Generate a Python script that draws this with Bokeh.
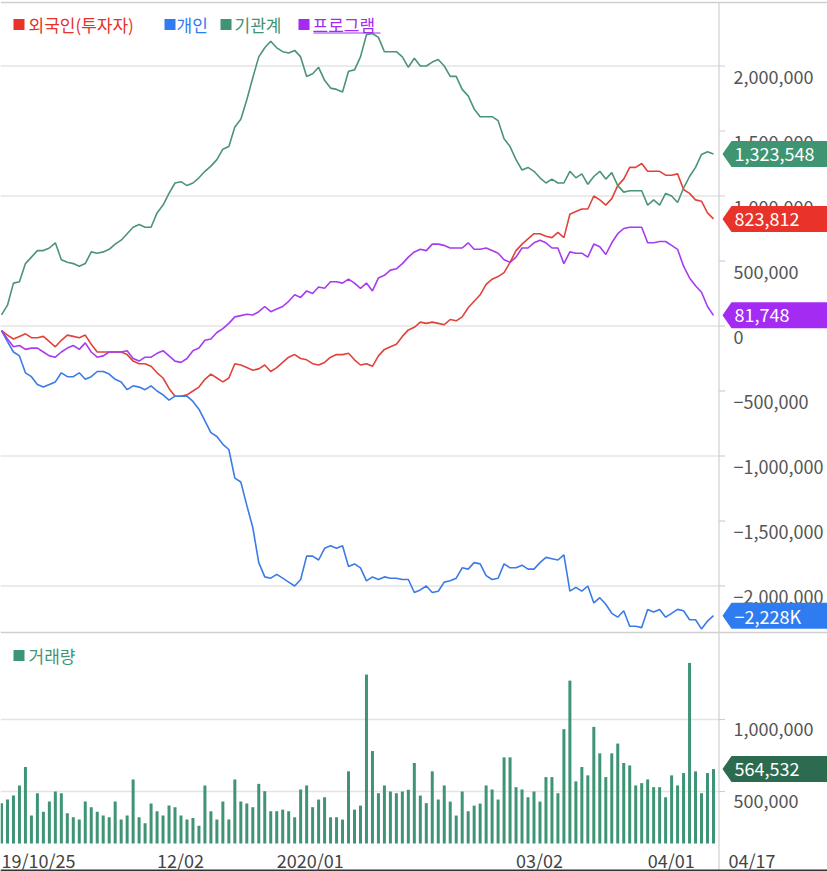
from bokeh.plotting import figure
from bokeh.models import Range1d
from bokeh.core.properties import value
from bokeh.embed import file_html
from bokeh.resources import INLINE

# ---------------- data ----------------
SERIES_NAMES = ["외국인(투자자)", "개인", "기관계", "프로그램"]
VOLUME_NAME = "거래량"
X_TICK_INDEX = [0, 26, 46, 86, 108]
X_TICK_LABELS = ["19/10/25", "12/02", "2020/01", "03/02", "04/01"]
LAST_DATE_LABEL = "04/17"
MAIN_TICKS = [-2000000, -1500000, -1000000, -500000, 0, 500000, 1000000, 1500000, 2000000]
MAIN_TICK_LABELS = ["−2,000,000", "−1,500,000", "−1,000,000", "−500,000", "0",
                    "500,000", "1,000,000", "1,500,000", "2,000,000"]
MAIN_GRID = [-2000000, -1000000, 0, 1000000, 2000000]
VOL_TICKS = [500000, 1000000]
VOL_TICK_LABELS = ["500,000", "1,000,000"]
LAST_LABELS = ["823,812", "−2,228K", "1,323,548", "81,748"]
VOL_LAST_LABEL = "564,532"

# cumulative net buying, millions
foreign_m = [
    -0.035, -0.07, -0.10, -0.08, -0.06, -0.09, -0.09, -0.08, -0.12, -0.16,
    -0.11, -0.07, -0.08, -0.09, -0.07, -0.14, -0.20, -0.20, -0.20, -0.20,
    -0.20, -0.22, -0.27, -0.29, -0.29, -0.31, -0.36, -0.40, -0.48, -0.54,
    -0.54, -0.53, -0.50, -0.47, -0.41, -0.37, -0.40, -0.43, -0.40, -0.29,
    -0.30, -0.32, -0.34, -0.33, -0.30, -0.35, -0.32, -0.28, -0.24, -0.22,
    -0.25, -0.26, -0.29, -0.30, -0.28, -0.24, -0.22, -0.22, -0.21, -0.26,
    -0.30, -0.29, -0.31, -0.23, -0.18, -0.16, -0.14, -0.08, -0.03, -0.01,
    0.03, 0.02, 0.03, 0.02, 0.01, 0.05, 0.04, 0.07, 0.14, 0.19,
    0.24, 0.32, 0.36, 0.38, 0.41, 0.49, 0.58, 0.63, 0.67, 0.71,
    0.71, 0.69, 0.68, 0.72, 0.68, 0.86, 0.88, 0.90, 0.90, 1.00,
    0.97, 0.93, 0.98, 1.08, 1.13, 1.22, 1.22, 1.25, 1.19, 1.19,
    1.19, 1.16, 1.16, 1.17, 1.05, 1.02, 0.97, 0.96, 0.87, 0.823812]
individual_m = [
    -0.035, -0.12, -0.20, -0.23, -0.36, -0.39, -0.45, -0.47, -0.45, -0.43,
    -0.36, -0.39, -0.39, -0.36, -0.41, -0.39, -0.35, -0.35, -0.37, -0.41,
    -0.43, -0.49, -0.46, -0.47, -0.49, -0.46, -0.50, -0.53, -0.57, -0.54,
    -0.54, -0.54, -0.58, -0.64, -0.73, -0.82, -0.85, -0.91, -0.95, -1.17,
    -1.20, -1.38, -1.55, -1.82, -1.93, -1.94, -1.91, -1.94, -1.97, -2.00,
    -1.95, -1.77, -1.77, -1.80, -1.71, -1.69, -1.71, -1.69, -1.85, -1.83,
    -1.86, -1.96, -1.93, -1.95, -1.93, -1.94, -1.94, -1.95, -1.95, -2.05,
    -2.03, -2.00, -2.05, -2.04, -1.97, -1.96, -1.94, -1.86, -1.87, -1.82,
    -1.83, -1.92, -1.95, -1.94, -1.83, -1.86, -1.86, -1.84, -1.87, -1.87,
    -1.82, -1.78, -1.79, -1.80, -1.76, -2.04, -2.01, -2.04, -2.00, -2.13,
    -2.09, -2.14, -2.21, -2.24, -2.19, -2.31, -2.31, -2.32, -2.18, -2.20,
    -2.18, -2.24, -2.21, -2.18, -2.19, -2.26, -2.26, -2.33, -2.27, -2.228]
institution_m = [
    0.085, 0.16, 0.33, 0.34, 0.48, 0.53, 0.58, 0.58, 0.60, 0.64,
    0.51, 0.49, 0.48, 0.46, 0.48, 0.57, 0.56, 0.57, 0.59, 0.63,
    0.66, 0.71, 0.76, 0.78, 0.76, 0.76, 0.87, 0.93, 1.02, 1.10,
    1.11, 1.08, 1.10, 1.14, 1.19, 1.23, 1.28, 1.36, 1.38, 1.53,
    1.59, 1.74, 1.91, 2.07, 2.14, 2.19, 2.14, 2.11, 2.10, 2.12,
    2.07, 1.92, 1.94, 1.99, 1.89, 1.83, 1.82, 1.80, 1.96, 1.97,
    2.07, 2.24, 2.25, 2.22, 2.11, 2.11, 2.11, 2.07, 1.99, 2.06,
    2.00, 2.00, 2.03, 2.05, 2.00, 1.92, 1.92, 1.82, 1.77, 1.67,
    1.61, 1.61, 1.61, 1.58, 1.44, 1.38, 1.28, 1.20, 1.22, 1.19,
    1.14, 1.10, 1.13, 1.10, 1.10, 1.19, 1.14, 1.17, 1.09, 1.15,
    1.19, 1.13, 1.18, 1.08, 1.03, 1.04, 1.04, 1.04, 0.93, 0.97,
    0.93, 1.02, 1.00, 0.95, 1.06, 1.15, 1.22, 1.32, 1.34, 1.323548]
program_m = [
    -0.035, -0.10, -0.16, -0.15, -0.18, -0.17, -0.17, -0.20, -0.23, -0.24,
    -0.20, -0.17, -0.15, -0.18, -0.13, -0.20, -0.24, -0.23, -0.20, -0.20,
    -0.20, -0.19, -0.25, -0.27, -0.24, -0.24, -0.21, -0.19, -0.23, -0.27,
    -0.28, -0.25, -0.19, -0.17, -0.11, -0.10, -0.05, -0.02, 0.02, 0.07,
    0.08, 0.09, 0.085, 0.11, 0.15, 0.11, 0.13, 0.15, 0.19, 0.24,
    0.22, 0.27, 0.25, 0.30, 0.29, 0.34, 0.34, 0.33, 0.36, 0.33,
    0.29, 0.33, 0.27, 0.37, 0.39, 0.43, 0.44, 0.48, 0.53, 0.57,
    0.59, 0.58, 0.63, 0.63, 0.62, 0.60, 0.60, 0.60, 0.64, 0.59,
    0.59, 0.60, 0.58, 0.56, 0.51, 0.49, 0.53, 0.60, 0.60, 0.64,
    0.66, 0.64, 0.60, 0.60, 0.48, 0.57, 0.56, 0.56, 0.53, 0.63,
    0.61, 0.55, 0.64, 0.71, 0.75, 0.76, 0.76, 0.76, 0.64, 0.64,
    0.65, 0.65, 0.62, 0.59, 0.46, 0.37, 0.31, 0.26, 0.15, 0.081748]
# daily volume, thousands
volume_k = [
    419, 444, 472, 542, 670, 333, 488, 360, 430, 500,
    488, 349, 321, 305, 430, 391, 360, 333, 321, 430,
    305, 333, 584, 321, 279, 416, 363, 333, 402, 391,
    333, 305, 316, 263, 542, 363, 305, 430, 305, 584,
    430, 416, 391, 553, 502, 363, 363, 374, 363, 321,
    514, 542, 391, 444, 460, 321, 321, 305, 640, 374,
    402, 1312, 781, 488, 542, 500, 488, 500, 512, 698,
    472, 419, 640, 444, 542, 430, 333, 500, 363, 402,
    416, 542, 514, 444, 737, 737, 530, 514, 460, 500,
    430, 600, 600, 488, 933, 1270, 570, 670, 612, 949,
    765, 600, 765, 833, 698, 681, 542, 558, 584, 530,
    530, 460, 612, 542, 628, 1393, 640, 488, 628, 656]

# ---------------- styling / layout ----------------
W, H = 827, 871
FONT = value("Noto Sans CJK KR")
LINE_COLORS = ["#e0433a", "#3b7be6", "#4b9478", "#a63cef"]
BADGE_COLORS = ["#e8322a", "#2f7cf0", "#3f9472", "#a42cf2"]
LEGEND_COLORS = ["#e8322a", "#2f7cf0", "#3f9472", "#a42cf2"]
VOL_COLOR = "#3e9474"
VOL_BADGE = "#2c6b50"
GRID = "#e4e4e4"
BORDER = "#cfcfcf"
TXT = "#555555"

X_LEFT, X_STEP = 1.0, 5.983        # pixel of index 0, pixels per index
ZERO_Y, PX_PER_M = 325.5, 130.0     # main panel scale
V500_Y, PX_PER_500K = 791.0, 72.0   # volume panel scale
AXIS_X = 718.5
MAIN_BOTTOM, VOL_BOTTOM = 632.0, 843.0

x0 = -X_LEFT / X_STEP
x1 = x0 + W / X_STEP
y_top = ZERO_Y / PX_PER_M * 1e6
y_bot = (ZERO_Y - H) / PX_PER_M * 1e6
v_top = 500000 + V500_Y * 500000 / PX_PER_500K
v_bot = 500000 - (H - V500_Y) * 500000 / PX_PER_500K
VOL_BASE = 500000 - (VOL_BOTTOM - V500_Y) * 500000 / PX_PER_500K

p = figure(width=W, height=H, output_backend="svg", toolbar_location=None,
           x_range=Range1d(x0, x1), y_range=Range1d(y_bot, y_top),
           x_axis_location=None, y_axis_location=None,
           min_border=0, min_border_left=0, min_border_right=0,
           min_border_top=0, min_border_bottom=0,
           outline_line_color=None, background_fill_color="white",
           border_fill_color="white")
p.grid.visible = False
p.extra_x_ranges = {"px": Range1d(0, W)}
p.extra_y_ranges = {"py": Range1d(H, 0), "vol": Range1d(v_bot, v_top)}

idx = list(range(len(foreign_m)))

# grid lines
p.segment(x0=[0] * len(MAIN_GRID), x1=[AXIS_X] * len(MAIN_GRID), y0=MAIN_GRID, y1=MAIN_GRID,
          x_range_name="px", line_color=GRID, line_width=1.5)
p.segment(x0=[0] * len(VOL_TICKS), x1=[AXIS_X] * len(VOL_TICKS), y0=VOL_TICKS, y1=VOL_TICKS,
          x_range_name="px", y_range_name="vol", line_color=GRID, line_width=1.5)
# borders
p.segment(x0=[0, 0], x1=[W, W], y0=[2, MAIN_BOTTOM], y1=[2, MAIN_BOTTOM],
          x_range_name="px", y_range_name="py", line_color=BORDER, line_width=1.5)
p.segment(x0=[AXIS_X], x1=[AXIS_X], y0=[2], y1=[H],
          x_range_name="px", y_range_name="py", line_color=BORDER, line_width=1.2)
p.segment(x0=[0], x1=[W], y0=[870], y1=[870],
          x_range_name="px", y_range_name="py", line_color="#333333", line_width=2)
# tick marks
p.segment(x0=[AXIS_X] * len(MAIN_TICKS), x1=[AXIS_X + 6] * len(MAIN_TICKS), y0=MAIN_TICKS, y1=MAIN_TICKS,
          x_range_name="px", line_color=BORDER, line_width=1.2)
p.segment(x0=[AXIS_X] * len(VOL_TICKS), x1=[AXIS_X + 6] * len(VOL_TICKS), y0=VOL_TICKS, y1=VOL_TICKS,
          x_range_name="px", y_range_name="vol", line_color=BORDER, line_width=1.2)
# tick labels
p.text(x=[733] * len(MAIN_TICKS), y=MAIN_TICKS, text=MAIN_TICK_LABELS, x_range_name="px",
       y_offset=11, text_font=FONT, text_font_size="18px", text_color=TXT,
       text_baseline="middle", text_align="left")
p.text(x=[733] * len(VOL_TICKS), y=VOL_TICKS, text=VOL_TICK_LABELS, x_range_name="px",
       y_range_name="vol", y_offset=9, text_font=FONT, text_font_size="18px",
       text_color=TXT, text_baseline="middle", text_align="left")

# volume bars
vol = [v * 1000 for v in volume_k]
p.vbar(x=idx, top=vol, bottom=VOL_BASE, width=0.5, y_range_name="vol",
       fill_color=VOL_COLOR, line_color=None)

# lines
series = [foreign_m, individual_m, institution_m, program_m]
for s, c in zip(series, LINE_COLORS):
    p.line(x=idx, y=[v * 1e6 for v in s], line_color=c, line_width=1.6)

# badges
hh = 13 * 1e6 / PX_PER_M
for s, c, lab in zip(series, BADGE_COLORS, LAST_LABELS):
    v = s[-1] * 1e6
    p.patch(x=[722, 731, W, W, 731], y=[v, v + hh, v + hh, v - hh, v - hh],
            x_range_name="px", fill_color=c, line_color=None)
    p.text(x=[734], y=[v], text=[lab], x_range_name="px", text_font=FONT,
           text_font_size="18px", text_color="white", text_baseline="middle",
           text_align="left")
vh = 13 * 500000 / PX_PER_500K
vl = vol[-1]
p.patch(x=[722, 731, W, W, 731], y=[vl, vl + vh, vl + vh, vl - vh, vl - vh],
        x_range_name="px", y_range_name="vol", fill_color=VOL_BADGE, line_color=None)
p.text(x=[734], y=[vl], text=[VOL_LAST_LABEL], x_range_name="px", y_range_name="vol",
       text_font=FONT, text_font_size="18px", text_color="white",
       text_baseline="middle", text_align="left")

# legends
LEG_SQ_X = [18.5, 169.5, 225.5, 303.5]
LEG_TX_X = [28, 176, 234, 312]
p.scatter(x=LEG_SQ_X, y=[24] * 4, marker="square", size=11, fill_color=LEGEND_COLORS,
          line_color=None, x_range_name="px", y_range_name="py")
p.text(x=LEG_TX_X, y=[24] * 4, text=SERIES_NAMES, x_range_name="px", y_range_name="py",
       text_font=FONT, text_font_size="17px", text_color=LEGEND_COLORS,
       text_baseline="middle", text_align="left")
p.segment(x0=[313], x1=[380], y0=[32.5], y1=[32.5], x_range_name="px", y_range_name="py",
          line_color=LEGEND_COLORS[3], line_width=1)
p.scatter(x=[18.5], y=[655], marker="square", size=11, fill_color=VOL_COLOR,
          line_color=None, x_range_name="px", y_range_name="py")
p.text(x=[28], y=[655], text=[VOLUME_NAME], x_range_name="px", y_range_name="py",
       text_font=FONT, text_font_size="17px", text_color=VOL_COLOR,
       text_baseline="middle", text_align="left")

# x labels
p.text(x=X_TICK_INDEX, y=[859] * len(X_TICK_INDEX), text=X_TICK_LABELS, y_range_name="py",
       text_font=FONT, text_font_size="18px", text_color="#444444",
       text_baseline="middle", text_align="left")
p.text(x=[728], y=[859], text=[LAST_DATE_LABEL], x_range_name="px", y_range_name="py",
       text_font=FONT, text_font_size="18px", text_color="#444444",
       text_baseline="middle", text_align="left")

open("out.html", "w").write(file_html(p, INLINE))
